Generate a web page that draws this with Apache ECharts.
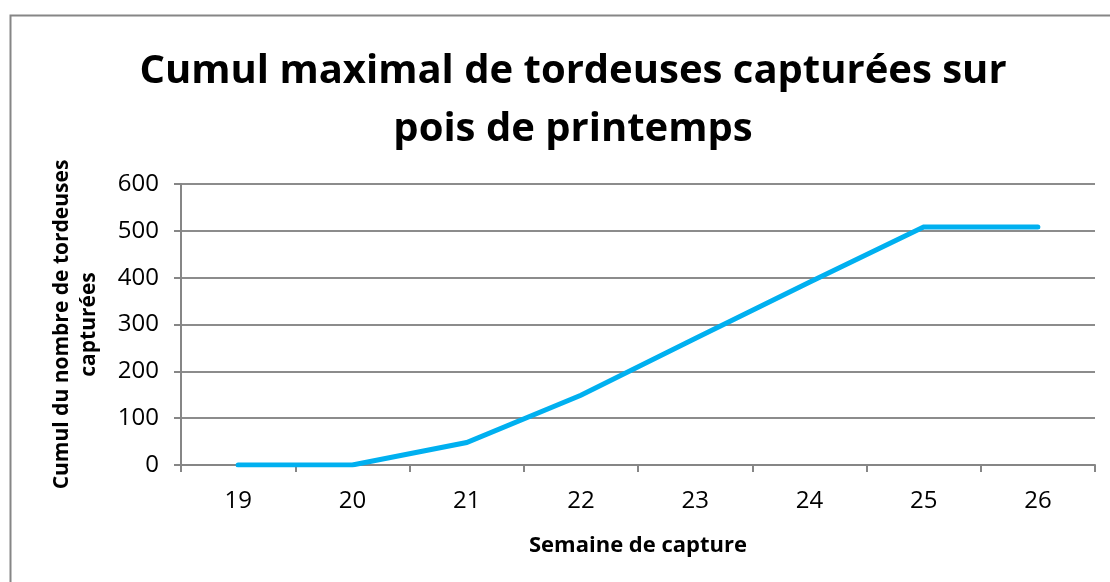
<!DOCTYPE html>
<html>
<head>
<meta charset="utf-8">
<script src="https://cdn.jsdelivr.net/npm/echarts@6/dist/echarts.min.js"></script>
<style>html,body{margin:0;padding:0;background:#fff;}#c{width:1110px;height:582px;}</style>
</head>
<body>
<div id="c"></div>
<script>
var titleText = "Cumul maximal de tordeuses capturées sur\npois de printemps";
var categories = ["19", "20", "21", "22", "23", "24", "25", "26"];
var cumulValues = [0, 0, 48, 149, 270, 390, 508, 508];
var yName = "Cumul du nombre de tordeuses\ncapturées";
var xName = "Semaine de capture";

var chart = echarts.init(document.getElementById('c'), null, {renderer: 'canvas'});
var font = "'Open Sans', 'Noto Sans', sans-serif";
chart.setOption({
  animation: false,
  backgroundColor: '#ffffff',
  graphic: [{
    type: 'rect', left: 8, top: 13, z: -1, silent: true,
    shape: {width: 1200, height: 700},
    style: {fill: 'none', stroke: '#868686', lineWidth: 2}
  }],
  title: {
    text: titleText,
    left: 568, top: 38, textAlign: 'center',
    textStyle: {fontFamily: font, fontWeight: 'bold', fontSize: 40, lineHeight: 58, color: '#000'}
  },
  grid: {left: 181, right: 15, top: 184, bottom: 117, containLabel: false},
  xAxis: {
    type: 'category', data: categories, boundaryGap: true,
    name: xName, nameLocation: 'middle', nameGap: 70,
    nameTextStyle: {fontFamily: font, fontWeight: 'bold', fontSize: 22, color: '#000'},
    axisLine: {lineStyle: {color: '#868686', width: 2}},
    axisTick: {show: true, alignWithLabel: false, length: 7, lineStyle: {color: '#868686', width: 2}},
    axisLabel: {fontFamily: font, fontSize: 24, color: '#000', margin: 24},
    splitLine: {show: false}
  },
  yAxis: {
    type: 'value', min: 0, max: 600, interval: 100,
    name: yName, nameLocation: 'middle', nameGap: 78, nameRotate: 90,
    nameTextStyle: {fontFamily: font, fontWeight: 'bold', fontSize: 21, lineHeight: 27, color: '#000'},
    axisLine: {show: true, lineStyle: {color: '#868686', width: 2}},
    axisTick: {show: true, length: 7, lineStyle: {color: '#868686', width: 2}},
    axisLabel: {fontFamily: font, fontSize: 24, color: '#000', margin: 22},
    splitLine: {show: true, lineStyle: {color: '#8c8c8c', width: 2}}
  },
  series: [{
    type: 'line', data: cumulValues, showSymbol: false, symbol: 'none',
    lineStyle: {color: '#00b0f0', width: 5, cap: 'round', join: 'miter'},
    itemStyle: {color: '#00b0f0'}
  }]
});
</script>
</body>
</html>
